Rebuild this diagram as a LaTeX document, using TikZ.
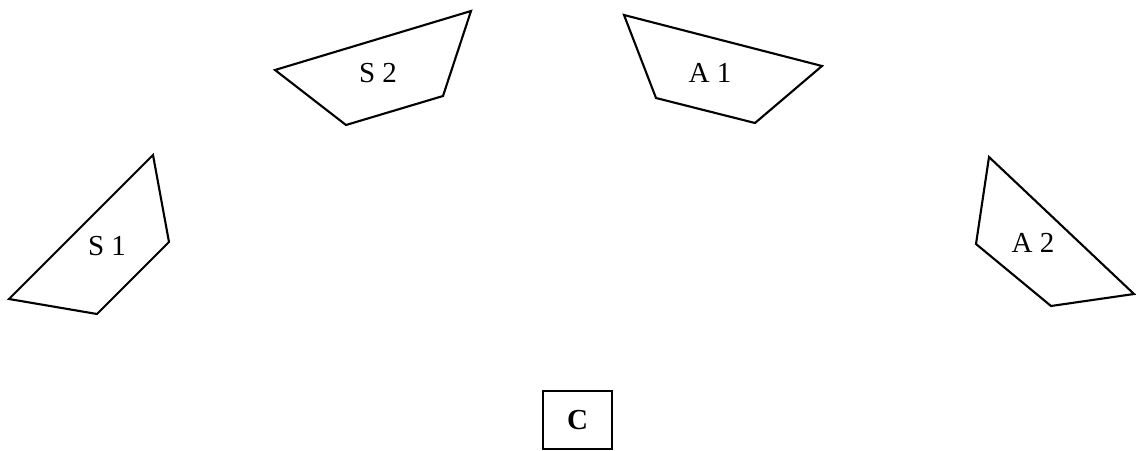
\documentclass[tikz,border=0pt]{standalone}
\usepackage{fontspec}
\setmainfont{Liberation Serif}
\usetikzlibrary{positioning}
\tikzset{
	seat/.style={line width=1.2pt, line join=miter},
	seatlabel/.style={font=\fontsize{16.5}{19}\selectfont, inner sep=0pt},
	centre/.style={draw, line width=1.2pt, minimum width=1.38cm, minimum height=1.16cm, inner sep=0pt, font=\fontsize{16.5}{19}\selectfont\bfseries}
}

\begin{document}
\begin{tikzpicture}[x=0.02cm, y=-0.02cm]

		% frame of the picture
		\useasboundingbox (0,0) rectangle (1136,450);

		% the S side
		\draw[seat] (153,155) -- (169,242) -- (97,314) -- (9,299) -- cycle;
		\node[seatlabel] (s1) at (107,246) {S 1};
		\draw[seat] (275,70) -- (471,11) -- (443,96) -- (346,125) -- cycle;
		\node[seatlabel] (s2) at (378,73) {S 2};

		% the A side
		\draw[seat] (624,15) -- (822,66) -- (755,123) -- (656,98) -- cycle;
		\node[seatlabel] (a1) at (710,73) {A 1};
		\draw[seat] (989,157) -- (1134,294) -- (1051,306) -- (976,244) -- cycle;
		\node[seatlabel] (a2) at (1033,243) {A 2};

		% the centre
		\node[centre] (c) at (577.5,420) {C};

	\end{tikzpicture}
\end{document}
